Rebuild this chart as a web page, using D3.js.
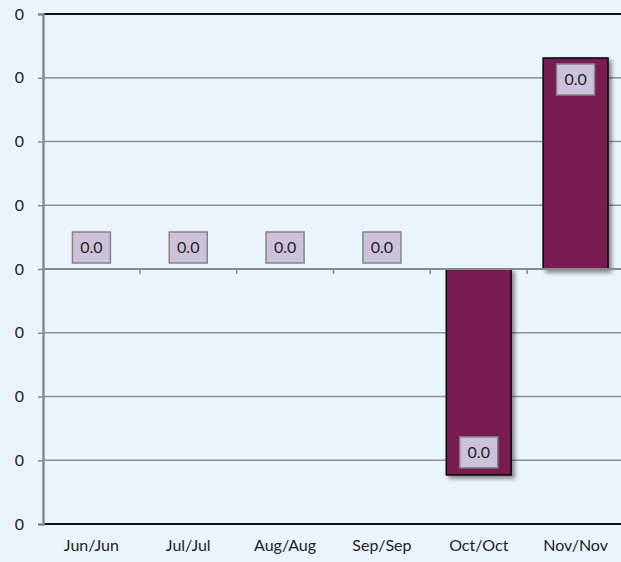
<!DOCTYPE html>
<html>
<head>
<meta charset="utf-8">
<script src="https://cdn.jsdelivr.net/npm/d3@7"></script>
<style>
  html, body { margin: 0; padding: 0; background: #EAF4FD; }
  svg { display: block; }
  text { font-family: Lato, "Liberation Sans", sans-serif; fill: #222; }
</style>
</head>
<body>
<svg id="chart" width="621" height="562"></svg>
<script>
// ---- data ----
const categories = ["Jun/Jun", "Jul/Jul", "Aug/Aug", "Sep/Sep", "Oct/Oct", "Nov/Nov"];
const values = [0, 0, 0, 0, -0.00323, 0.00331];
const dataLabels = ["0.0", "0.0", "0.0", "0.0", "0.0", "0.0"];
const yTicks = [-0.004, -0.003, -0.002, -0.001, 0, 0.001, 0.002, 0.003, 0.004];
const yTickLabels = ["0", "0", "0", "0", "0", "0", "0", "0", "0"];

const W = 621, H = 562;
const margin = { left: 43, right: -3, top: 14, bottom: 38 };
const svg = d3.select("#chart");

const x = d3.scaleBand().domain(categories)
  .range([margin.left, W - margin.right])
  .paddingInner(0.33).paddingOuter(0.165);
const y = d3.scaleLinear().domain([-0.004, 0.004]).range([H - margin.bottom, margin.top]);

const defs = svg.append("defs");
const f = defs.append("filter").attr("id", "shadow")
  .attr("x", "-20%").attr("y", "-20%").attr("width", "150%").attr("height", "150%");
f.append("feDropShadow").attr("dx", 3).attr("dy", 3).attr("stdDeviation", 2.2)
  .attr("flood-color", "#000").attr("flood-opacity", 0.45);

// gridlines
svg.append("g").selectAll("line").data(yTicks).join("line")
  .attr("x1", margin.left).attr("x2", W)
  .attr("y1", d => y(d)).attr("y2", d => y(d))
  .attr("stroke", d => (d === yTicks[0] || d === yTicks[yTicks.length - 1]) ? "#111" : "#8E8E8E")
  .attr("stroke-width", d => (d === yTicks[0] || d === yTicks[yTicks.length - 1]) ? 2 : 1.5);

// y axis
const yAxis = d3.axisLeft(y).tickValues(yTicks)
  .tickFormat((d, i) => yTickLabels[i]).tickSize(5).tickPadding(14);
const gy = svg.append("g").attr("transform", `translate(${margin.left},0)`).call(yAxis);
gy.select(".domain").attr("stroke", "#8A8A8A").attr("stroke-width", 2.5);
gy.selectAll(".tick line").attr("stroke", "#8A8A8A").attr("stroke-width", 1.5);
gy.selectAll(".tick text").attr("font-size", 16).attr("font-family", "Lato, sans-serif").attr("fill", "#222");

// bars
svg.append("g").selectAll("rect").data(values).join("rect")
  .attr("x", (d, i) => x(categories[i]))
  .attr("width", x.bandwidth())
  .attr("y", d => y(Math.max(0, d)))
  .attr("height", d => Math.abs(y(d) - y(0)))
  .attr("fill", "#781F51")
  .attr("stroke", "#000").attr("stroke-width", 1.5)
  .attr("filter", "url(#shadow)")
  .style("display", d => d === 0 ? "none" : null);

// zero axis with category ticks
const zg = svg.append("g");
zg.append("line").attr("x1", margin.left).attr("x2", W)
  .attr("y1", y(0)).attr("y2", y(0)).attr("stroke", "#8A8A8A").attr("stroke-width", 2);
const boundaries = categories.slice(1).map(c => x(c) - x.step() * x.paddingInner() / 2);
zg.selectAll("line.t").data(boundaries).join("line").attr("class", "t")
  .attr("x1", d => d).attr("x2", d => d)
  .attr("y1", y(0)).attr("y2", y(0) + 5)
  .attr("stroke", "#8A8A8A").attr("stroke-width", 1.5);

// data labels
const bw = 38, bh = 31;
const lg = svg.append("g").selectAll("g").data(values).join("g")
  .attr("transform", (d, i) => {
    const cx = x(categories[i]) + x.bandwidth() / 2;
    let top;
    if (d > 0) top = y(d) + 6;
    else if (d < 0) top = y(d) - 7 - bh;
    else top = y(0) - 6 - bh;
    return `translate(${cx - bw / 2},${top})`;
  });
lg.append("rect").attr("width", bw).attr("height", bh)
  .attr("fill", "#CCC1DA").attr("stroke", "#848484").attr("stroke-width", 1.5);
lg.append("text").attr("x", bw / 2).attr("y", bh / 2 + 5.5)
  .attr("text-anchor", "middle").attr("font-size", 16)
  .text((d, i) => dataLabels[i]);

// category labels
svg.append("g").selectAll("text").data(categories).join("text")
  .attr("x", d => x(d) + x.bandwidth() / 2)
  .attr("y", H - 11)
  .attr("text-anchor", "middle").attr("font-size", 16)
  .text(d => d);
</script>
</body>
</html>
